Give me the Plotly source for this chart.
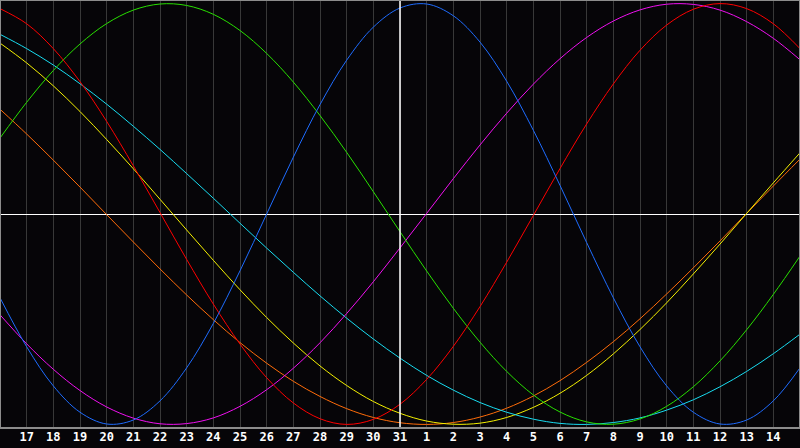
import plotly.graph_objects as go

# Day index 0 = Oct 16 ... 30 = Nov 15
days = list(range(31))
tick_days = list(range(1, 30))
tick_labels = [str(d) for d in range(17, 32)] + [str(d) for d in range(1, 15)]
today_index = 15

blue = [-0.398,-0.631,-0.817,-0.942,-0.998,-0.979,-0.888,-0.731,-0.520,-0.270,0.000,0.270,0.520,0.731,0.888,0.979,0.998,0.942,0.817,0.631,0.398,0.136,-0.136,-0.398,-0.631,-0.817,-0.942,-0.998,-0.979,-0.888,-0.731]
red = [0.976,0.904,0.786,0.629,0.440,0.229,0.007,-0.216,-0.428,-0.618,-0.778,-0.898,-0.973,-1.000,-0.976,-0.904,-0.786,-0.629,-0.440,-0.229,-0.007,0.216,0.428,0.618,0.778,0.898,0.973,1.000,0.976,0.904,0.786]
green = [0.361,0.531,0.682,0.808,0.905,0.969,0.998,0.991,0.949,0.872,0.763,0.627,0.468,0.293,0.106,-0.084,-0.271,-0.448,-0.609,-0.748,-0.860,-0.941,-0.988,-0.999,-0.974,-0.914,-0.821,-0.698,-0.550,-0.382,-0.200]
magenta = [-0.479,-0.617,-0.738,-0.839,-0.917,-0.970,-0.997,-0.996,-0.969,-0.914,-0.835,-0.733,-0.612,-0.473,-0.322,-0.161,0.003,0.168,0.328,0.479,0.617,0.738,0.839,0.917,0.970,0.997,0.996,0.969,0.914,0.835,0.733]
yellow = [0.812,0.718,0.609,0.487,0.354,0.215,0.070,-0.076,-0.220,-0.360,-0.492,-0.613,-0.722,-0.815,-0.891,-0.947,-0.984,-0.999,-0.994,-0.967,-0.919,-0.852,-0.767,-0.665,-0.549,-0.422,-0.285,-0.143,0.003,0.148,0.291]
orange = [0.498,0.380,0.256,0.128,-0.003,-0.133,-0.261,-0.385,-0.502,-0.611,-0.709,-0.795,-0.867,-0.925,-0.967,-0.992,-1.000,-0.991,-0.965,-0.923,-0.865,-0.792,-0.705,-0.607,-0.498,-0.380,-0.256,-0.128,0.003,0.133,0.261]
cyan = [0.854,0.786,0.708,0.619,0.522,0.417,0.307,0.192,0.075,-0.044,-0.162,-0.277,-0.389,-0.495,-0.594,-0.685,-0.767,-0.837,-0.896,-0.942,-0.975,-0.995,-1.000,-0.991,-0.969,-0.932,-0.883,-0.821,-0.748,-0.664,-0.571]

series = [
    ("orange", orange, "#ff6c08"),
    ("yellow", yellow, "#f4f000"),
    ("cyan", cyan, "#18dcf0"),
    ("magenta", magenta, "#f010f0"),
    ("green", green, "#28e000"),
    ("red", red, "#ff0000"),
    ("blue", blue, "#1e6cff"),
]

bg = "#060508"
fig = go.Figure()
for name, vals, col in series:
    fig.add_trace(go.Scatter(x=days, y=vals, mode="lines", name=name,
                             line=dict(color=col, width=1, shape="spline"),
                             showlegend=False, hoverinfo="skip"))

fig.update_layout(
    width=800, height=448,
    margin=dict(l=0, r=0, t=0, b=20),
    paper_bgcolor=bg, plot_bgcolor=bg,
    xaxis=dict(range=[0, 30], tickmode="array", tickvals=tick_days, ticktext=tick_labels,
               showgrid=True, gridcolor="#383838", gridwidth=1, zeroline=False,
               ticks="", showline=False, automargin=False,
               tickfont=dict(family="DejaVu Sans Mono", size=12, color="#ffffff", weight="bold")),
    yaxis=dict(range=[-1.017, 1.017], showticklabels=False, showgrid=False,
               zeroline=True, zerolinecolor="#ffffff", zerolinewidth=1, automargin=False),
    shapes=[
        dict(type="line", xref="x", yref="paper", x0=today_index, x1=today_index,
             y0=0, y1=1, line=dict(color="#ffffff", width=1.5), layer="above"),
        dict(type="rect", xref="paper", yref="paper", x0=0, x1=1, y0=0, y1=1,
             line=dict(color="#8c8c8c", width=2), layer="above"),
    ],
)

fig.write_html("out.html", config={"displayModeBar": False, "staticPlot": True},
               post_script="document.body.style.margin='0';document.body.style.padding='0';"
                           "document.body.style.background='#060508';document.body.style.overflow='hidden';")
